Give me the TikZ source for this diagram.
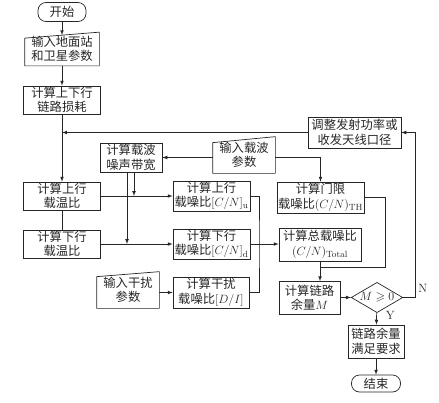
\documentclass[tikz,border=0pt]{standalone}
\usepackage{amssymb}
\usepackage[no-math]{fontspec}
\setmainfont{Noto Sans CJK SC}
\usetikzlibrary{shapes.geometric}
\tikzset{
	box/.style={draw, align=center, inner sep=1pt},
	term/.style={draw, rounded corners=8pt, inner sep=1pt},
	inp/.style={align=center, inner sep=1pt},
	dec/.style={draw, diamond, aspect=1.7, inner sep=0pt, minimum width=48pt, minimum height=29pt}
}
% slanted top of an input box
\def\inshape#1#2{\draw ([yshift=-#2]#1.north west) -- (#1.north east) -- (#1.south east) -- (#1.south west) -- cycle;}

\begin{document}
\begin{tikzpicture}[x=1pt, y=-1pt, color=black!85, line width=0.7pt, >=latex,
	font=\fontsize{12.3pt}{14.5pt}\selectfont]
	\useasboundingbox (0,0) rectangle (439,402);

	\node[term, minimum width=48pt, minimum height=19pt] (start) at (62,12) {开始};
	\node[inp, minimum width=74pt, minimum height=33pt] (gs) at (62,49) {输入地面站\\和卫星参数};
	\inshape{gs}{6pt}
	\node[box, minimum width=77pt, minimum height=28pt] (loss) at (62,100) {计算上下行\\链路损耗};
	\node[box, minimum width=93pt, minimum height=31pt] (adj) at (354.5,132.5) {调整发射功率或\\收发天线口径};
	\node[box, minimum width=62pt, minimum height=29pt] (bw) at (131,157.5) {计算载波\\噪声带宽};
	\node[inp, minimum width=62pt, minimum height=36pt] (carr) at (244,155) {输入载波\\参数};
	\inshape{carr}{6pt}
	\node[box, minimum width=77pt, minimum height=28pt] (upT) at (62,196) {计算上行\\载温比};
	\node[box, minimum width=77pt, minimum height=28pt] (dnT) at (62,244) {计算下行\\载温比};
	\node[box, minimum width=77pt, minimum height=28pt] (upCN) at (211.5,196) {计算上行\\载噪比$[C/N]_{\mathrm{u}}$};
	\node[box, minimum width=77pt, minimum height=28pt] (dnCN) at (211.5,244) {计算下行\\载噪比$[C/N]_{\mathrm{d}}$};
	\node[box, minimum width=76pt, minimum height=31pt] (diCN) at (211,292.5) {计算干扰\\载噪比$[D/I]$};
	\node[inp, minimum width=62pt, minimum height=36pt] (intf) at (128,290) {输入干扰\\参数};
	\inshape{intf}{5pt}
	\node[box, minimum width=83pt, minimum height=31pt] (th) at (320.5,197.5) {计算门限\\载噪比$(C/N)_{\mathrm{TH}}$};
	\node[box, minimum width=82pt, minimum height=33pt] (tot) at (320,244.5) {计算总载噪比\\$(C/N)_{\mathrm{Total}}$};
	\node[box, minimum width=61pt, minimum height=33pt] (mar) at (309.5,298) {计算链路\\余量$M$};
	\node[dec] (chk) at (377,297.5) {$M\geqslant 0$};
	\node[box, minimum width=56pt, minimum height=33pt] (ok) at (376,341.5) {链路余量\\满足要求};
	\node[term, minimum width=49pt, minimum height=17pt] (end) at (376,383.5) {结束};

	\coordinate (cnj) at (259,244);
	\coordinate (thc) at (385,267);
	\coordinate (mgj) at (320,267);
	\coordinate (nc) at (415,297.5);

	\draw[->] (start) -- ([yshift=-3pt]gs.north);
	\draw[->] (gs) -- (loss);
	\draw[->] (loss) -- (upT);
	\draw (upT) -- (dnT);
	\draw[->] (adj.west) -- (adj.west -| loss.south);
	\draw[->] (upT) -- (upCN);
	\draw[->] (dnT) -- (dnCN);
	\draw[->] ([xshift=3pt]bw.south) -- ([xshift=3pt]bw.south |- upT.east);
	\draw[->] ([xshift=-4pt]bw.south) -- ([xshift=-4pt]bw.south |- dnT.east);
	\draw[->] (carr.west |- bw.east) -- (bw.east);
	\draw[->] (carr.east |- bw.east) -| (th.north);
	\draw[->] (intf.east |- diCN.west) -- (diCN.west);
	\draw (upCN.east) -| (cnj) |- (diCN.east);
	\draw (dnCN.east) -- (cnj);
	\draw[->] (cnj) -- (tot.west |- cnj);
	\draw (th.east) -| (thc) -- (mgj);
	\draw[->] (tot.south) -- (tot.south |- mar.north);
	\draw[->] (mar.east |- chk.west) -- (chk.west);
	\draw[->] (chk.east) -- (nc) |- (adj.east);
	\node[anchor=south west, inner sep=1pt] (nlab) at ([xshift=2pt,yshift=4pt]nc) {$\mathrm{N}$};
	\draw[->] (chk) -- (ok) node[pos=0.25, right=8pt, inner sep=1pt] (ylab) {$\mathrm{Y}$};
	\draw[->] (ok) -- (end);
\end{tikzpicture}
\end{document}
